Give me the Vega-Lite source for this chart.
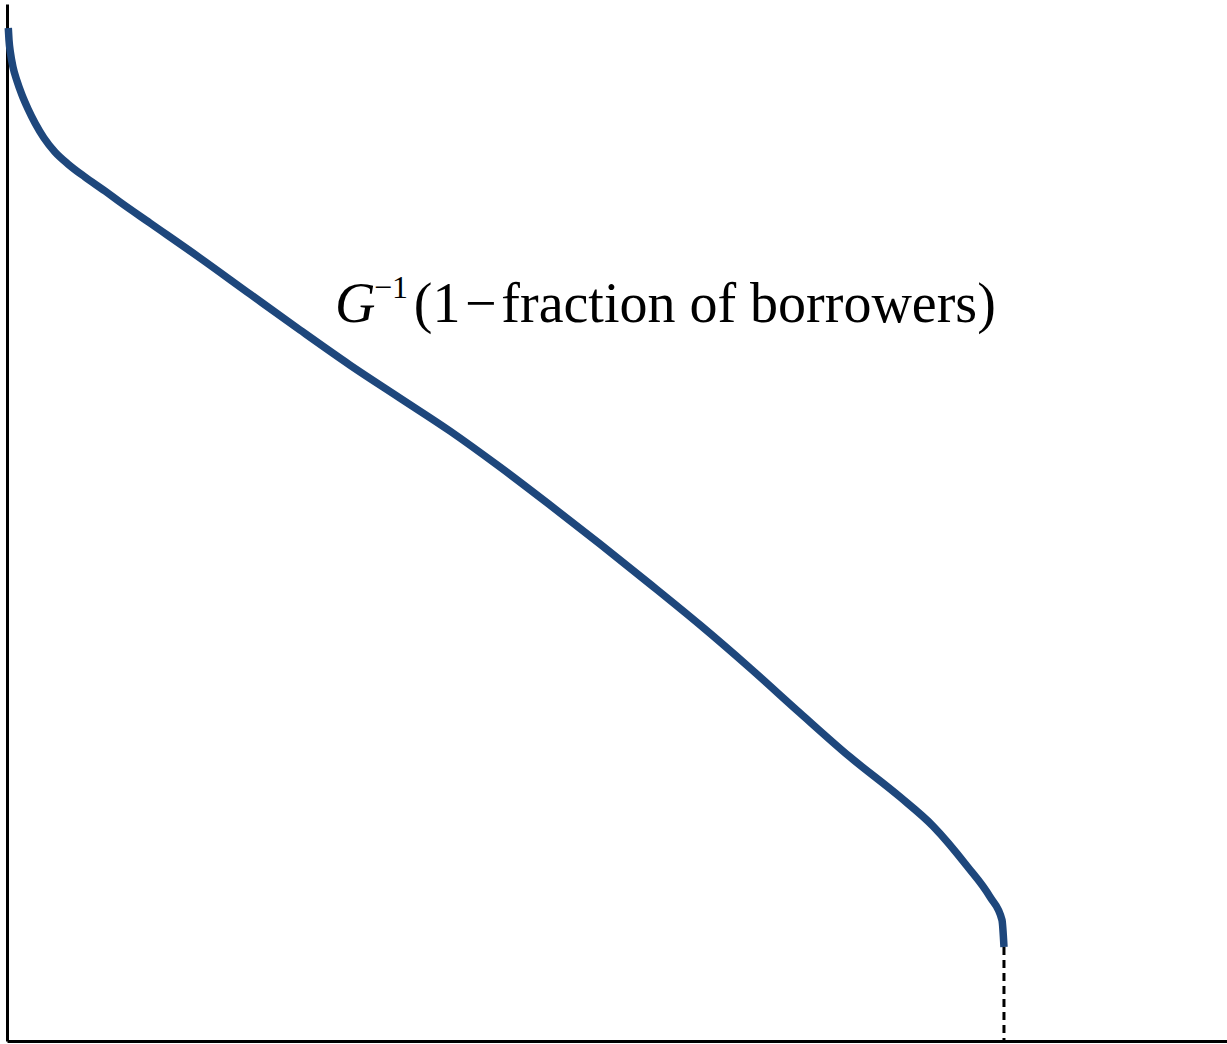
{
  "$schema": "https://vega.github.io/schema/vega-lite/v6.json",
  "width": 1220,
  "height": 1037,
  "autosize": "none",
  "padding": {"left": 7, "top": 4, "right": 0, "bottom": 3},
  "background": "white",
  "config": {"view": {"stroke": null}},
  "layer": [
    {
      "data": {
        "values": [
          {"share": 0.0013, "threshold": 1.0},
          {"share": 0.002, "threshold": 0.9882},
          {"share": 0.0035, "threshold": 0.9753},
          {"share": 0.006, "threshold": 0.9615},
          {"share": 0.01, "threshold": 0.9477},
          {"share": 0.015, "threshold": 0.9339},
          {"share": 0.0211, "threshold": 0.92},
          {"share": 0.0281, "threshold": 0.9062},
          {"share": 0.0371, "threshold": 0.8914},
          {"share": 0.0481, "threshold": 0.8776},
          {"share": 0.0612, "threshold": 0.8657},
          {"share": 0.0782, "threshold": 0.8529},
          {"share": 0.0983, "threshold": 0.8391},
          {"share": 0.1133, "threshold": 0.8282},
          {"share": 0.1434, "threshold": 0.8075},
          {"share": 0.1936, "threshold": 0.773},
          {"share": 0.2437, "threshold": 0.7374},
          {"share": 0.2939, "threshold": 0.7019},
          {"share": 0.344, "threshold": 0.6673},
          {"share": 0.3942, "threshold": 0.6347},
          {"share": 0.4443, "threshold": 0.6022},
          {"share": 0.4945, "threshold": 0.5666},
          {"share": 0.5446, "threshold": 0.5291},
          {"share": 0.5948, "threshold": 0.4906},
          {"share": 0.6449, "threshold": 0.4511},
          {"share": 0.6951, "threshold": 0.4107},
          {"share": 0.7452, "threshold": 0.3682},
          {"share": 0.7954, "threshold": 0.3238},
          {"share": 0.8455, "threshold": 0.2804},
          {"share": 0.8957, "threshold": 0.2409},
          {"share": 0.9288, "threshold": 0.2122},
          {"share": 0.9629, "threshold": 0.1728},
          {"share": 0.986, "threshold": 0.1422},
          {"share": 0.998, "threshold": 0.1194},
          {"share": 1.0, "threshold": 0.0928}
        ]
      },
      "mark": {"type": "line", "color": "#1e477c", "strokeWidth": 7.5, "interpolate": "monotone", "strokeCap": "butt"},
      "encoding": {
        "x": {
          "field": "share",
          "type": "quantitative",
          "scale": {"domain": [0, 1.2237], "nice": false, "zero": false},
          "axis": {"orient": "bottom", "labels": false, "ticks": false, "grid": false, "title": null, "domainColor": "black", "domainWidth": 3}
        },
        "y": {
          "field": "threshold",
          "type": "quantitative",
          "scale": {"domain": [0, 1.0237], "nice": false, "zero": false},
          "axis": {"orient": "left", "labels": false, "ticks": false, "grid": false, "title": null, "domainColor": "black", "domainWidth": 3}
        }
      }
    },
    {
      "data": {"values": [{"share": 1.0, "top": 0.0928, "bottom": 0}]},
      "mark": {"type": "rule", "color": "black", "strokeWidth": 3, "strokeDash": [8, 5]},
      "encoding": {
        "x": {"field": "share", "type": "quantitative"},
        "y": {"field": "top", "type": "quantitative"},
        "y2": {"field": "bottom"}
      }
    },
    {
      "data": {"values": [{"share": 0.329, "threshold": 0.7098, "label": "G"}]},
      "mark": {"type": "text", "font": "Liberation Serif", "fontStyle": "italic", "fontSize": 56, "align": "left", "baseline": "alphabetic", "color": "black"},
      "encoding": {
        "x": {"field": "share", "type": "quantitative"},
        "y": {"field": "threshold", "type": "quantitative"},
        "text": {"field": "label"}
      }
    },
    {
      "data": {"values": [{"share": 0.368, "threshold": 0.7335, "label": "−1"}]},
      "mark": {"type": "text", "font": "Liberation Serif", "fontSize": 32, "align": "left", "baseline": "alphabetic", "color": "black"},
      "encoding": {
        "x": {"field": "share", "type": "quantitative"},
        "y": {"field": "threshold", "type": "quantitative"},
        "text": {"field": "label"}
      }
    },
    {
      "data": {"values": [{"share": 0.408, "threshold": 0.7098, "label": "(1\u200a−\u200afraction of borrowers)"}]},
      "mark": {"type": "text", "font": "Liberation Serif", "fontSize": 56, "align": "left", "baseline": "alphabetic", "color": "black"},
      "encoding": {
        "x": {"field": "share", "type": "quantitative"},
        "y": {"field": "threshold", "type": "quantitative"},
        "text": {"field": "label"}
      }
    }
  ]
}
